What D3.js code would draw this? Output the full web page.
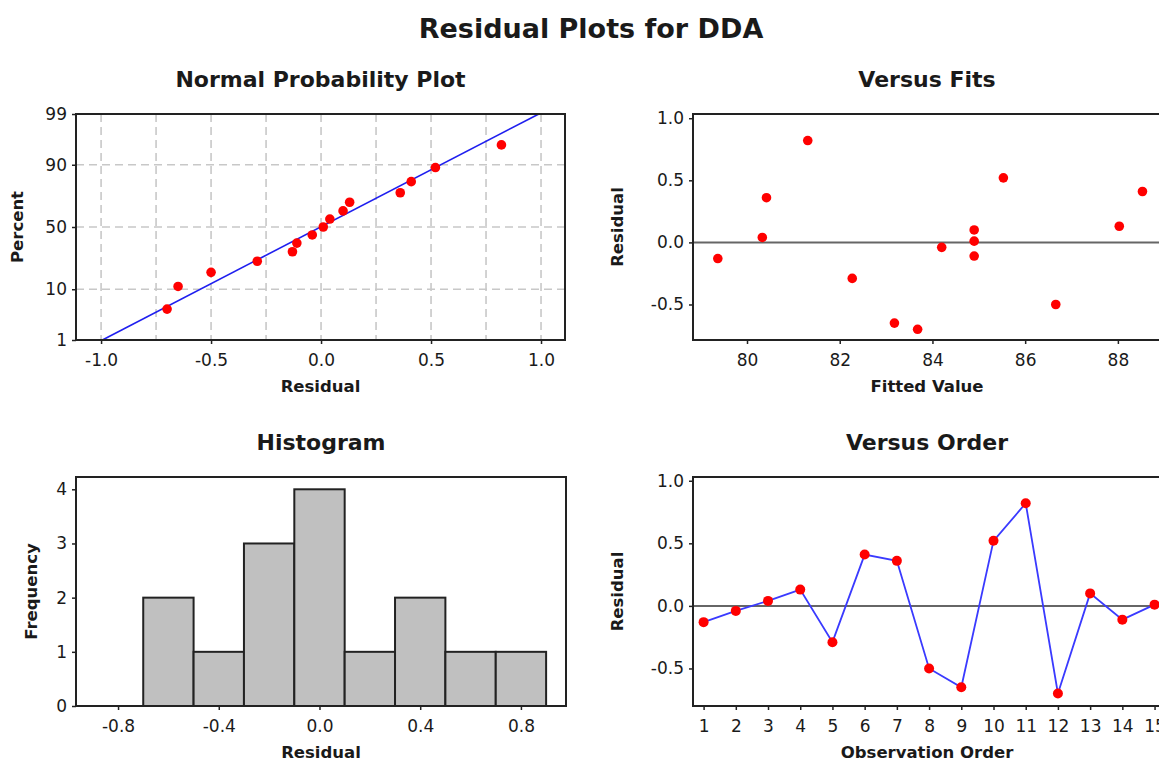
<!DOCTYPE html>
<html>
<head>
<meta charset="utf-8">
<script src="https://cdn.jsdelivr.net/npm/d3@7"></script>
<style>
  html, body { margin: 0; padding: 0; background: #fff; overflow: hidden; }
  svg text { font-family: "DejaVu Sans", Verdana, sans-serif; fill: #1a1a1a; }
  .main-title { font-size: 27px; font-weight: bold; }
  .panel-title { font-size: 22px; font-weight: bold; }
  .axis-label { font-size: 16.5px; font-weight: bold; }
</style>
</head>
<body>
<div id="chart"></div>
<script>
// residuals, in observation order
const observation = [1, 2, 3, 4, 5, 6, 7, 8, 9, 10, 11, 12, 13, 14, 15]
const residuals = [-0.13, -0.04, 0.04, 0.13, -0.29, 0.41, 0.36, -0.50, -0.65, 0.52, 0.82, -0.70, 0.10, -0.11, 0.01]
const fittedValues = [79.37, 84.20, 80.33, 88.03, 82.27, 88.53, 80.42, 86.66, 83.18, 85.53, 81.31, 83.68, 84.90, 84.90, 84.90]

// histogram bins (centre of each bin, width 0.2)
const binCenters = [-0.8, -0.6, -0.4, -0.2, 0.0, 0.2, 0.4, 0.6, 0.8]
const binCounts = [0, 2, 1, 3, 4, 1, 2, 1, 1]

// tick labels
const percentTicks = [1, 10, 50, 90, 99]
const percentGrid = [10, 50, 90]
const normXTicks = [-1.0, -0.5, 0.0, 0.5, 1.0]
const normXGrid = [-1.0, -0.75, -0.5, -0.25, 0.0, 0.25, 0.5, 0.75, 1.0]
const residTicks = [-0.5, 0.0, 0.5, 1.0]
const fitTicks = [80, 82, 84, 86, 88]
const freqTicks = [0, 1, 2, 3, 4]
const histXTicks = [-0.8, -0.4, 0.0, 0.4, 0.8]

const width = 1159, height = 761

const svg = d3.select('#chart')
    .append('svg')
    .attr('width', width)
    .attr('height', height)

// inverse normal cdf (Acklam), needed for the probability scale
function probit(p) {
    const a = [-3.969683028665376e+01, 2.209460984245205e+02, -2.759285104469687e+02, 1.383577518672690e+02, -3.066479806614716e+01, 2.506628277459239e+00]
    const b = [-5.447609879822406e+01, 1.615858368580409e+02, -1.556989798598866e+02, 6.680131188771972e+01, -1.328068155288572e+01]
    const c = [-7.784894002430293e-03, -3.223964580411365e-01, -2.400758277161838e+00, -2.549732539343734e+00, 4.374664141464968e+00, 2.938163982698783e+00]
    const d = [7.784695709041462e-03, 3.224671290700398e-01, 2.445134137142996e+00, 3.754408661907416e+00]
    const plow = 0.02425
    let q, r
    if (p < plow) {
        q = Math.sqrt(-2 * Math.log(p))
        return (((((c[0] * q + c[1]) * q + c[2]) * q + c[3]) * q + c[4]) * q + c[5]) / ((((d[0] * q + d[1]) * q + d[2]) * q + d[3]) * q + 1)
    }
    if (p > 1 - plow) {
        q = Math.sqrt(-2 * Math.log(1 - p))
        return -(((((c[0] * q + c[1]) * q + c[2]) * q + c[3]) * q + c[4]) * q + c[5]) / ((((d[0] * q + d[1]) * q + d[2]) * q + d[3]) * q + 1)
    }
    q = p - 0.5
    r = q * q
    return (((((a[0] * r + a[1]) * r + a[2]) * r + a[3]) * r + a[4]) * r + a[5]) * q / (((((b[0] * r + b[1]) * r + b[2]) * r + b[3]) * r + b[4]) * r + 1)
}

const fmt1 = d => d.toFixed(1)

function styleAxis(g) {
    g.select('.domain').remove()
    g.selectAll('.tick line').attr('stroke', '#222').attr('stroke-width', 1.5)
    g.selectAll('.tick text').attr('fill', '#1a1a1a').style('font-size', '17px')
}

// frame, titles and axes shared by all 4 panels
function drawPanel(box, x, y, opt) {
    const g = svg.append('g')
    g.append('text').attr('class', 'panel-title')
        .attr('x', (box.left + box.right) / 2).attr('y', box.top - 27)
        .attr('text-anchor', 'middle').text(opt.title)
    g.append('text').attr('class', 'axis-label')
        .attr('x', (box.left + box.right) / 2).attr('y', box.bottom + 52)
        .attr('text-anchor', 'middle').text(opt.xLabel)
    g.append('text').attr('class', 'axis-label')
        .attr('transform', `translate(${opt.yLabelX}, ${(box.top + box.bottom) / 2}) rotate(-90)`)
        .attr('text-anchor', 'middle').text(opt.yLabel)

    g.append('g').attr('transform', `translate(0, ${box.bottom})`)
        .call(d3.axisBottom(x).tickValues(opt.xTicks).tickFormat(opt.xFormat).tickSize(4).tickPadding(10))
        .call(styleAxis)
    g.append('g').attr('transform', `translate(${box.left}, 0)`)
        .call(d3.axisLeft(y).tickValues(opt.yTicks).tickFormat(opt.yFormat).tickSize(4).tickPadding(5))
        .call(styleAxis)
    return g
}

function drawFrame(box) {
    svg.append('rect')
        .attr('x', box.left).attr('y', box.top)
        .attr('width', box.right - box.left).attr('height', box.bottom - box.top)
        .attr('fill', 'none').attr('stroke', '#222').attr('stroke-width', 2)
}

function drawZeroLine(box, y) {
    svg.append('line')
        .attr('x1', box.left).attr('x2', box.right)
        .attr('y1', y(0)).attr('y2', y(0))
        .attr('stroke', '#666').attr('stroke-width', 2)
}

function drawDots(data, cx, cy, r) {
    svg.append('g').selectAll('circle')
        .data(data).enter()
        .append('circle')
        .attr('cx', cx).attr('cy', cy).attr('r', r)
        .attr('fill', '#ff0000')
}

svg.append('text').attr('class', 'main-title')
    .attr('x', 591).attr('y', 38).attr('text-anchor', 'middle')
    .text('Residual Plots for DDA')

// ---------- Normal Probability Plot ----------
function drawNormal() {
    const box = { left: 76, top: 114, right: 565, bottom: 340 }
    const x = d3.scaleLinear().domain([-1.114, 1.109]).range([box.left, box.right])
    // y runs on the normal quantile of the percent
    const zScale = d3.scaleLinear().domain([probit(0.01), probit(0.99)]).range([box.bottom, box.top])
    const y = p => zScale(probit(p / 100))

    // dashed grid
    svg.append('g').selectAll('line').data(normXGrid).enter().append('line')
        .attr('x1', d => x(d)).attr('x2', d => x(d)).attr('y1', box.top).attr('y2', box.bottom)
        .attr('stroke', '#c8c8c8').attr('stroke-width', 1.6).attr('stroke-dasharray', '8,5')
    svg.append('g').selectAll('line').data(percentGrid).enter().append('line')
        .attr('y1', d => y(d)).attr('y2', d => y(d)).attr('x1', box.left).attr('x2', box.right)
        .attr('stroke', '#c8c8c8').attr('stroke-width', 1.6).attr('stroke-dasharray', '8,5')

    drawPanel(box, x, zScale, {
        title: 'Normal Probability Plot', xLabel: 'Residual', yLabel: 'Percent', yLabelX: 23,
        xTicks: normXTicks, xFormat: fmt1,
        yTicks: percentTicks.map(p => probit(p / 100)), yFormat: (d, i) => percentTicks[i]
    })

    // fitted normal line from 1% to 99%
    const mu = d3.mean(residuals), sd = d3.deviation(residuals)
    const ends = [probit(0.01), probit(0.99)].map(z => ({ r: mu + sd * z, z: z }))
    svg.append('path')
        .attr('d', d3.line().x(d => x(d.r)).y(d => zScale(d.z))(ends))
        .attr('stroke', '#1f1fef').attr('stroke-width', 1.6).attr('fill', 'none')

    // points at median ranks
    const n = residuals.length
    const sorted = residuals.slice().sort(d3.ascending)
        .map((r, i) => ({ r: r, p: 100 * (i + 1 - 0.3) / (n + 0.4) }))
    drawDots(sorted, d => x(d.r), d => y(d.p), 4.8)
    drawFrame(box)
}

// ---------- Versus Fits ----------
function drawFits() {
    const box = { left: 693, top: 114, right: 1161, bottom: 340 }
    const x = d3.scaleLinear().domain([78.835, 88.93]).range([box.left, box.right])
    const y = d3.scaleLinear().domain([-0.786, 1.034]).range([box.bottom, box.top])
    drawPanel(box, x, y, {
        title: 'Versus Fits', xLabel: 'Fitted Value', yLabel: 'Residual', yLabelX: 623,
        xTicks: fitTicks, xFormat: d3.format('d'), yTicks: residTicks, yFormat: fmt1
    })
    drawZeroLine(box, y)
    drawDots(observation, (d, i) => x(fittedValues[i]), (d, i) => y(residuals[i]), 4.8)
    drawFrame(box)
}

// ---------- Histogram ----------
function drawHistogram() {
    const box = { left: 76, top: 477, right: 566, bottom: 706 }
    const x = d3.scaleLinear().domain([-0.967, 0.979]).range([box.left, box.right])
    const y = d3.scaleLinear().domain([0, 4.227]).range([box.bottom, box.top])
    drawPanel(box, x, y, {
        title: 'Histogram', xLabel: 'Residual', yLabel: 'Frequency', yLabelX: 37,
        xTicks: histXTicks, xFormat: fmt1, yTicks: freqTicks, yFormat: d3.format('d')
    })
    const bins = binCenters.map((c, i) => ({ c: c, n: binCounts[i] })).filter(d => d.n > 0)
    svg.append('g').selectAll('rect').data(bins).enter().append('rect')
        .attr('x', d => x(d.c - 0.1)).attr('width', d => x(d.c + 0.1) - x(d.c - 0.1))
        .attr('y', d => y(d.n)).attr('height', d => y(0) - y(d.n))
        .attr('fill', '#c0c0c0').attr('stroke', '#222').attr('stroke-width', 2)
    drawFrame(box)
}

// ---------- Versus Order ----------
function drawOrder() {
    const box = { left: 693, top: 477, right: 1161, bottom: 706 }
    const x = d3.scaleLinear().domain([0.671, 15.2]).range([box.left, box.right])
    const y = d3.scaleLinear().domain([-0.80, 1.03]).range([box.bottom, box.top])
    drawPanel(box, x, y, {
        title: 'Versus Order', xLabel: 'Observation Order', yLabel: 'Residual', yLabelX: 623,
        xTicks: observation, xFormat: d3.format('d'), yTicks: residTicks, yFormat: fmt1
    })
    drawZeroLine(box, y)
    const line = d3.line().x((d, i) => x(observation[i])).y(d => y(d))
    svg.append('path').attr('d', line(residuals))
        .attr('stroke', '#3a3aff').attr('stroke-width', 1.8).attr('fill', 'none')
    drawDots(observation, d => x(d), (d, i) => y(residuals[i]), 5)
    drawFrame(box)
}

drawNormal()
drawFits()
drawHistogram()
drawOrder()
</script>
</body>
</html>
